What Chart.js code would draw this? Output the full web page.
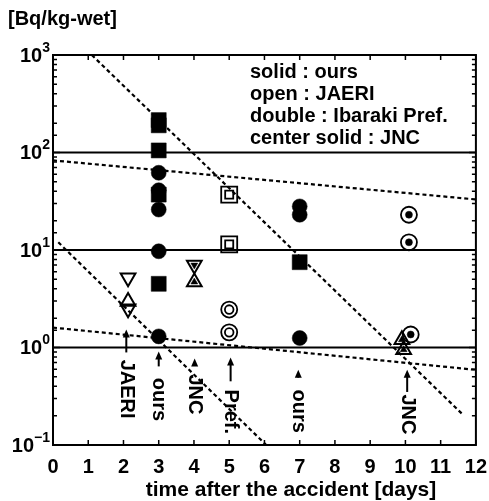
<!DOCTYPE html>
<html><head><meta charset="utf-8">
<script src="https://cdn.jsdelivr.net/npm/chart.js@4/dist/chart.umd.min.js"></script>
<style>html,body{margin:0;padding:0;background:#fff;}canvas{display:block;}</style>
</head><body>
<canvas id="c" width="489" height="501" style="width:489px;height:501px"></canvas>
<script>
// ---------- data ----------
const xTickValues = [0,1,2,3,4,5,6,7,8,9,10,11,12];
const yExponents = [-1,0,1,2,3];
const refLevels = [1, 10, 100];

// solid: ours
const oursCircleX = [3, 3, 3, 3, 3, 7, 7, 7];
const oursCircleY = [62, 41, 26, 9.7, 1.3, 28, 23, 1.25];
const oursSquareX = [3, 3, 3, 3, 3, 7];
const oursSquareY = [215, 190, 105, 37, 4.5, 7.5];
// open: JAERI
const jaeriTriDownX = [2.13, 2.13];
const jaeriTriDownY = [5.2, 2.5];
const jaeriTriUpX = [2.13];
const jaeriTriUpY = [2.97];
// double: Ibaraki Pref.
const prefSquareX = [5, 5];
const prefSquareY = [37, 11.4];
const prefCircleX = [5, 5];
const prefCircleY = [2.45, 1.43];
// circle with solid centre
const dotCircleX = [10.1, 10.1, 10.15];
const dotCircleY = [23, 12, 1.36];
// center solid: JNC
const jncTriDownX = [4.01];
const jncTriDownY = [7.0];
const jncTriUpX = [4.01, 9.9, 9.95];
const jncTriUpY = [4.7, 1.2, 0.95];

// dashed decay lines (end points)
const decayLineAX = [1.1, 11.6];   const decayLineAY = [1000, 0.21];
const decayLineBX = [0.15, 6.05];  const decayLineBY = [12, 0.1];
const decayLineCX = [0, 12];       const decayLineCY = [83, 33];
const decayLineDX = [0, 12];       const decayLineDY = [1.6, 0.59];

// annotations below the data
const annotX = [2.08, 3.0, 4.02, 5.04, 6.96, 10.05];
const annotText = ['JAERI', 'ours', 'JNC', 'Pref.', 'ours', 'JNC'];
const annotTip = [1.53, 0.91, 0.77, 0.79, 0.59, 0.59];
const annotTail = [0.89, 0.64, 0.67, 0.45, 0.49, 0.35];
const annotTextTop = [0.75, 0.49, 0.53, 0.37, 0.37, 0.33];

const legendLines = ['solid : ours', 'open : JAERI', 'double : Ibaraki Pref.', 'center solid : JNC'];
const unitLabel = '[Bq/kg-wet]';
const xTitle = 'time after the accident [days]';

// ---------- helpers ----------
const FONT = "'Liberation Sans', Arial, sans-serif";
const pts = (xs, ys) => xs.map((v, i) => ({x: v, y: ys[i]}));

function markerSet(xs, ys, style, radius, filled, opts = {}) {
  return Object.assign({
    type: 'scatter',
    data: pts(xs, ys),
    pointStyle: style,
    pointRadius: radius,
    pointHoverRadius: radius,
    pointBackgroundColor: filled ? '#000' : 'rgba(0,0,0,0)',
    pointBorderColor: '#000',
    pointBorderWidth: filled ? 0.5 : 2,
    showLine: false,
    order: 2
  }, opts);
}
function lineSet(xs, ys) {
  return {
    type: 'scatter',
    data: pts(xs, ys),
    showLine: true,
    borderColor: '#000',
    borderWidth: 2.2,
    borderDash: [4, 3],
    pointRadius: 0,
    pointHoverRadius: 0,
    fill: false,
    order: 10
  };
}

const datasets = [
  lineSet(decayLineAX, decayLineAY),
  lineSet(decayLineBX, decayLineBY),
  lineSet(decayLineCX, decayLineCY),
  lineSet(decayLineDX, decayLineDY),
  markerSet(oursCircleX, oursCircleY, 'circle', 7.5, true),
  markerSet(oursSquareX, oursSquareY, 'rect', 10.6, true),
  markerSet(jaeriTriDownX, jaeriTriDownY, 'triangle', 8.5, false, {rotation: 180}),
  markerSet(jaeriTriUpX, jaeriTriUpY, 'triangle', 8.5, false),
  markerSet(prefSquareX, prefSquareY, 'rect', 11.3, false, {pointBorderWidth: 1.8}),
  markerSet(prefSquareX, prefSquareY, 'rect', 5.7, false, {pointBorderWidth: 1.8, order: 1}),
  markerSet(prefCircleX, prefCircleY, 'circle', 8, false, {pointBorderWidth: 1.8}),
  markerSet(prefCircleX, prefCircleY, 'circle', 4.3, false, {pointBorderWidth: 1.8, order: 1}),
  markerSet(dotCircleX, dotCircleY, 'circle', 8, false, {pointBorderWidth: 1.8}),
  markerSet(dotCircleX, dotCircleY, 'circle', 3.5, true, {order: 1}),
  markerSet(jncTriDownX, jncTriDownY, 'triangle', 8.5, false, {rotation: 180}),
  markerSet(jncTriDownX, jncTriDownY, 'triangle', 4, true, {rotation: 180, order: 1}),
  markerSet(jncTriUpX, jncTriUpY, 'triangle', 8.5, false),
  markerSet(jncTriUpX, jncTriUpY, 'triangle', 4, true, {order: 1})
];

const decor = {
  id: 'decor',
  beforeDatasetsDraw(chart) {
    const {ctx, chartArea: a, scales: {y}} = chart;
    ctx.save();
    ctx.strokeStyle = '#000';
    ctx.lineWidth = 2;
    refLevels.forEach(v => {
      const py = y.getPixelForValue(v);
      ctx.beginPath(); ctx.moveTo(a.left, py); ctx.lineTo(a.right, py); ctx.stroke();
    });
    ctx.restore();
  },
  afterDraw(chart) {
    const {ctx, chartArea: a, scales: {x, y}} = chart;
    ctx.save();
    ctx.strokeStyle = '#000';
    ctx.fillStyle = '#000';
    // frame
    ctx.lineWidth = 2;
    ctx.strokeRect(a.left, a.top, a.right - a.left, a.bottom - a.top);
    // x ticks (inward, bottom and top)
    ctx.lineWidth = 1.5;
    xTickValues.forEach(v => {
      const px = x.getPixelForValue(v);
      ctx.beginPath();
      ctx.moveTo(px, a.bottom); ctx.lineTo(px, a.bottom - 5);
      ctx.moveTo(px, a.top); ctx.lineTo(px, a.top + 5);
      ctx.stroke();
    });
    // y ticks (inward, left and right)
    y.ticks.forEach(t => {
      const lg = Math.log10(t.value);
      const major = Math.abs(lg - Math.round(lg)) < 1e-6;
      const len = major ? 7 : 4;
      const py = y.getPixelForValue(t.value);
      ctx.beginPath();
      ctx.moveTo(a.left, py); ctx.lineTo(a.left + len, py);
      ctx.moveTo(a.right, py); ctx.lineTo(a.right - len, py);
      ctx.stroke();
    });
    // y labels 10^n
    ctx.textBaseline = 'middle';
    yExponents.forEach(e => {
      const py = y.getPixelForValue(Math.pow(10, e));
      const exp = e < 0 ? '\u2212' + Math.abs(e) : String(e);
      ctx.font = 'bold 14px ' + FONT;
      ctx.textAlign = 'right';
      const ew = ctx.measureText(exp).width;
      ctx.fillText(exp, 50, py - 7);
      ctx.font = 'bold 20px ' + FONT;
      ctx.fillText('10', 50 - ew, py + 1);
    });
    // unit label
    ctx.font = 'bold 20px ' + FONT;
    ctx.textAlign = 'left';
    ctx.fillText(unitLabel, 8, 19);
    // x title
    ctx.textAlign = 'center';
    ctx.font = 'bold 21px ' + FONT;
    ctx.fillText(xTitle, 291, 490);
    // legend text
    ctx.textAlign = 'left';
    ctx.font = 'bold 20px ' + FONT;
    legendLines.forEach((s, i) => ctx.fillText(s, 250, 72 + i * 22));
    // annotations
    ctx.lineWidth = 2;
    annotX.forEach((v, i) => {
      const px = x.getPixelForValue(v);
      const tip = y.getPixelForValue(annotTip[i]);
      const tail = y.getPixelForValue(annotTail[i]);
      const top = y.getPixelForValue(annotTextTop[i]);
      ctx.beginPath(); ctx.moveTo(px, tip + 5); ctx.lineTo(px, tail); ctx.stroke();
      ctx.beginPath(); ctx.moveTo(px, tip); ctx.lineTo(px - 3.5, tip + 8); ctx.lineTo(px + 3.5, tip + 8); ctx.closePath(); ctx.fill();
      ctx.save();
      ctx.translate(px, top);
      ctx.rotate(Math.PI / 2);
      ctx.textAlign = 'left';
      ctx.textBaseline = 'middle';
      ctx.font = 'bold 20px ' + FONT;
      ctx.fillText(annotText[i], 0, 0);
      ctx.restore();
    });
    ctx.restore();
  }
};

new Chart(document.getElementById('c'), {
  type: 'scatter',
  data: {datasets},
  options: {
    responsive: false,
    animation: false,
    devicePixelRatio: 1,
    layout: {padding: {left: 0, top: 55, right: 11, bottom: 0}},
    plugins: {legend: {display: false}, tooltip: {enabled: false}},
    scales: {
      x: {
        type: 'linear', min: 0, max: 12,
        grid: {display: false, drawTicks: false},
        border: {display: false},
        ticks: {stepSize: 1, autoSkip: false, maxRotation: 0, padding: 10, color: '#000',
                font: {family: FONT, size: 20, weight: 'bold'},
                callback: v => String(v)},
        afterFit: s => { s.height = 56; s.paddingLeft = 0; s.paddingRight = 0; }
      },
      y: {
        type: 'logarithmic', min: 0.1, max: 1000,
        grid: {display: false, drawTicks: false},
        border: {display: false},
        ticks: {display: false},
        afterFit: s => { s.width = 53; s.paddingTop = 0; s.paddingBottom = 0; }
      }
    }
  },
  plugins: [decor]
});
</script>
</body></html>
